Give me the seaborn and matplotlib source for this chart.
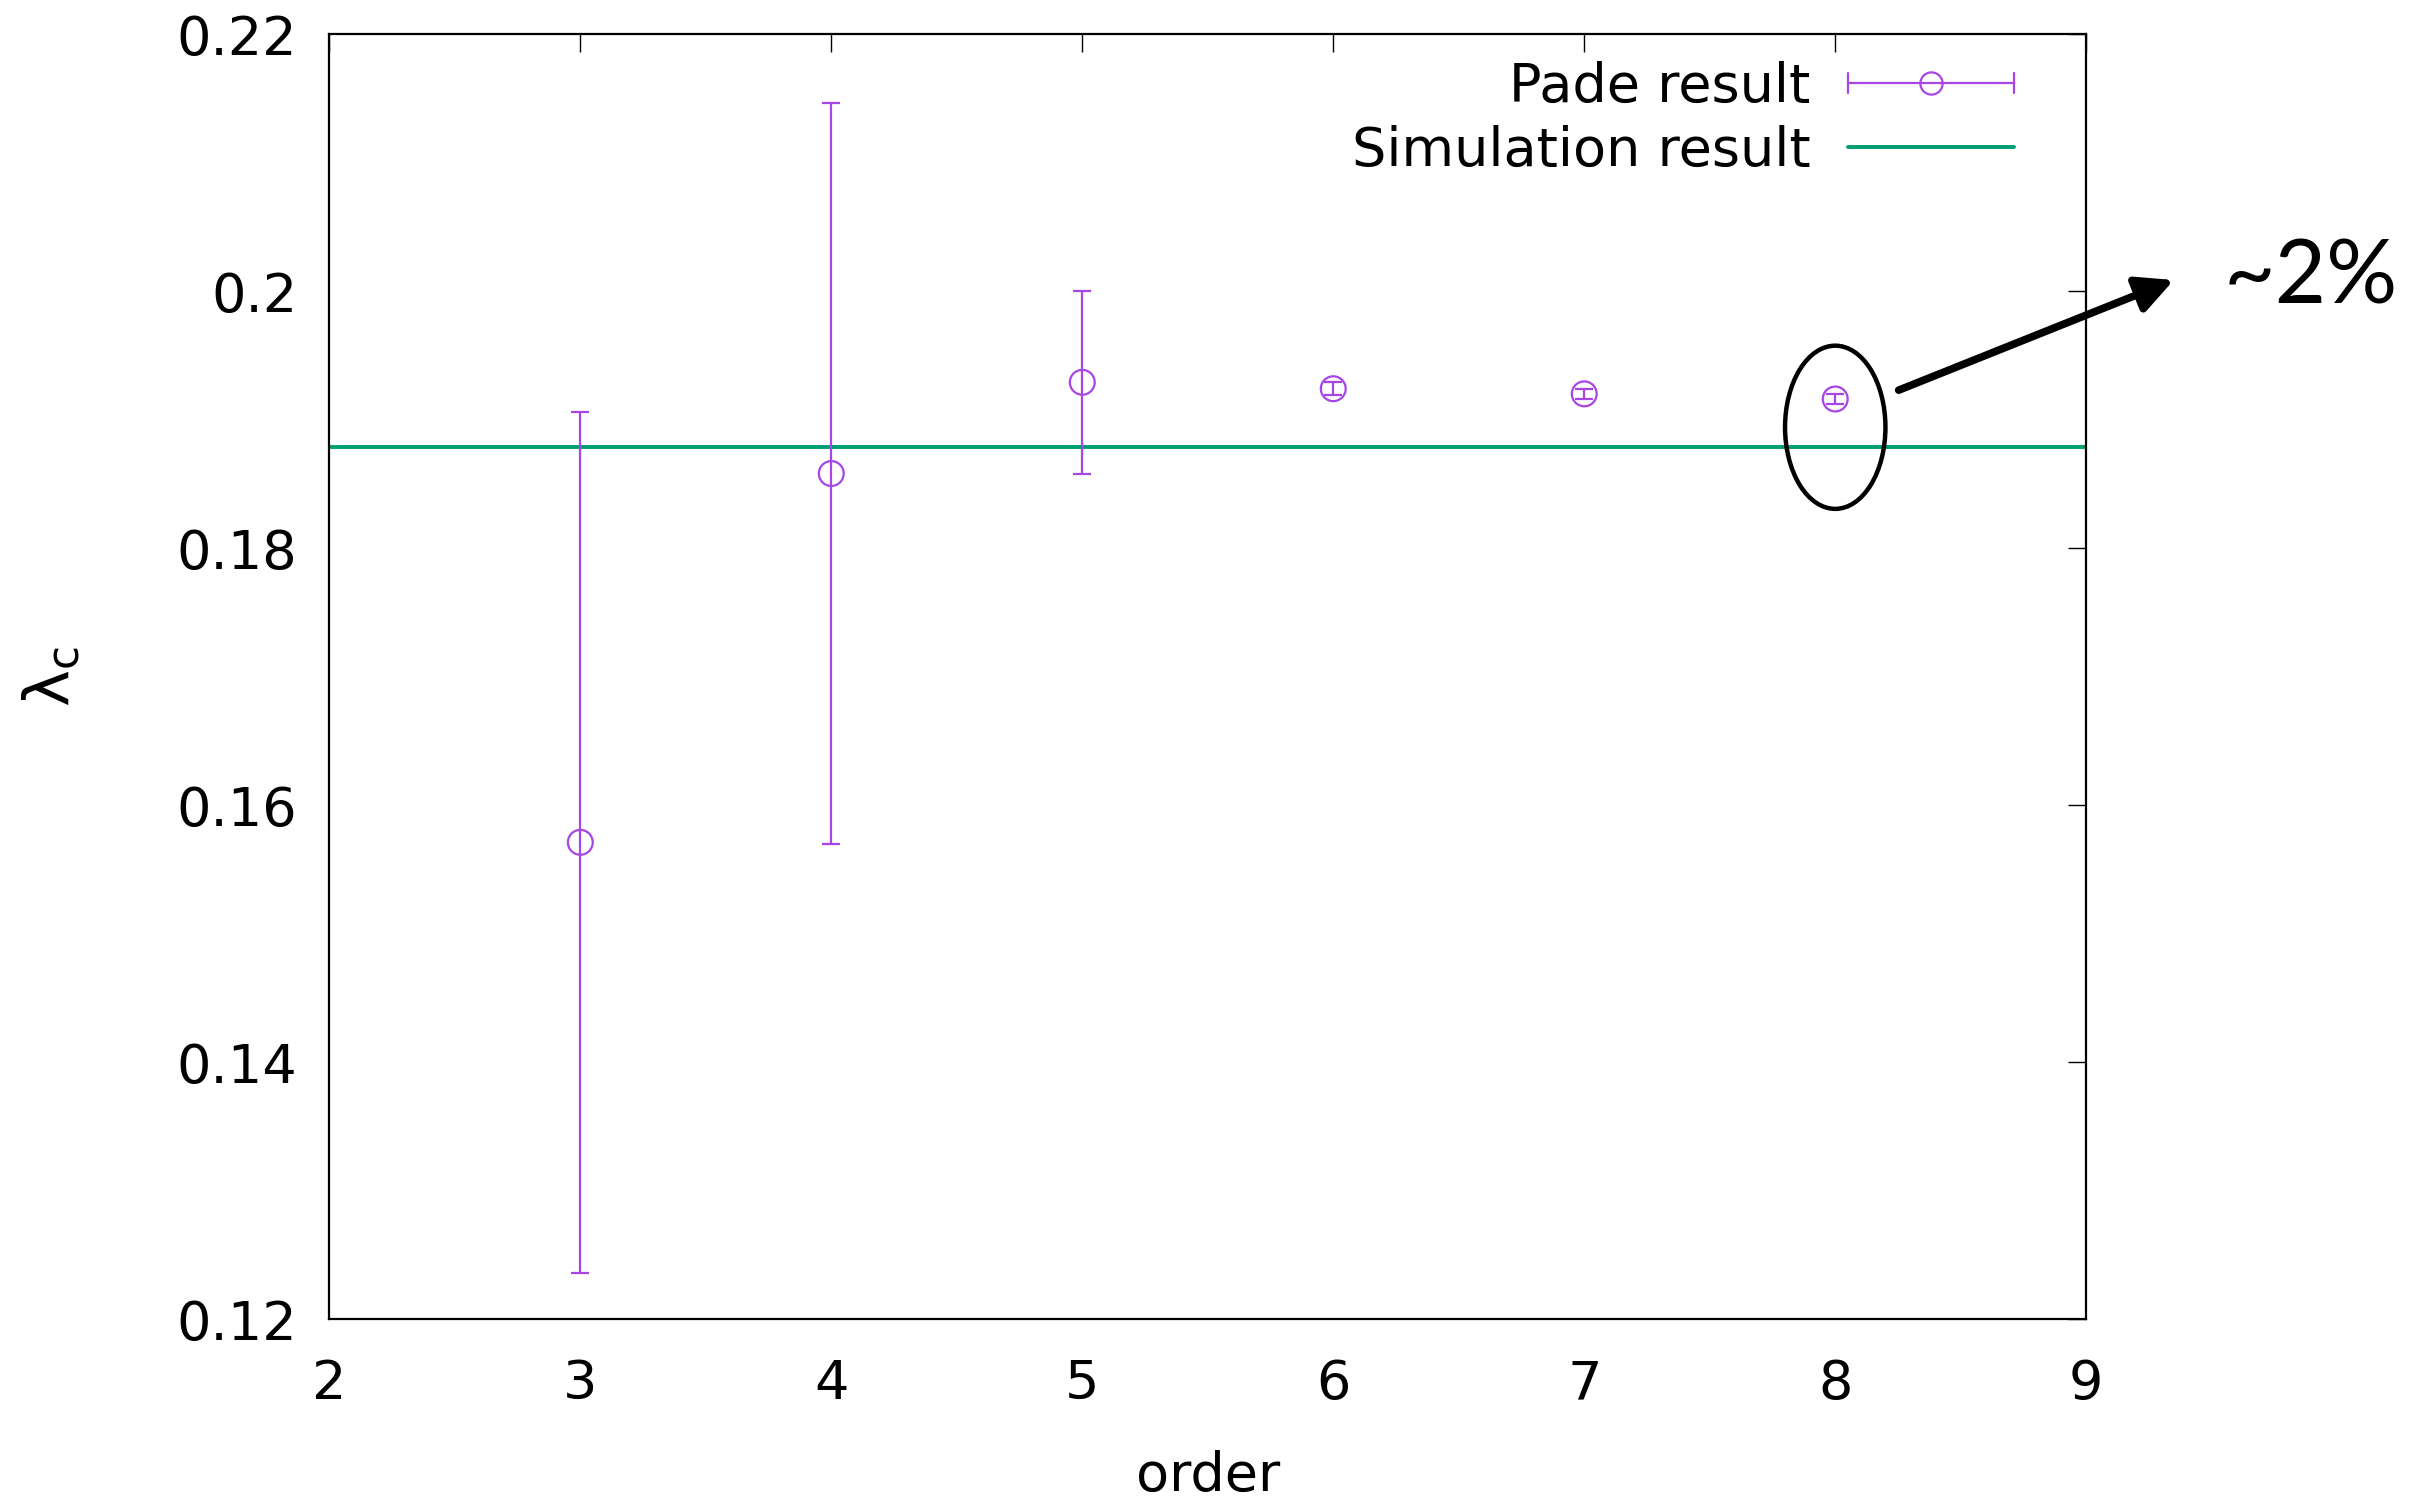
import numpy as np
import pandas as pd
import seaborn as sns
import matplotlib.pyplot as plt
from matplotlib.lines import Line2D
from matplotlib.patches import Ellipse, FancyArrowPatch
from matplotlib.legend_handler import HandlerBase

# values
orders = [3, 4, 5, 6, 7, 8]
pade_values = [0.1571, 0.1858, 0.1929, 0.1924, 0.1920, 0.1916]
pade_errors = [0.0335, 0.0288, 0.0071, 0.0005, 0.0004, 0.0004]
simulation_value = 0.1879
x_ticks = [2, 3, 4, 5, 6, 7, 8, 9]
y_ticks = [0.12, 0.14, 0.16, 0.18, 0.2, 0.22]
y_tick_labels = ["0.12", "0.14", "0.16", "0.18", "0.2", "0.22"]

PURPLE = "#a745e6"
GREEN = "#009e73"

sns.set_theme(style="white")
plt.rcParams["font.family"] = ["DejaVu Sans"]
plt.rcParams["text.color"] = "black"
plt.rcParams["axes.labelcolor"] = "black"
plt.rcParams["mathtext.fontset"] = "custom"
plt.rcParams["mathtext.rm"] = "DejaVu Sans"
plt.rcParams["mathtext.it"] = "DejaVu Sans"


class CapLineHandler(HandlerBase):
    # gnuplot style key sample: horizontal bar with caps and a circle
    def create_artists(self, legend, orig_handle, xdescent, ydescent,
                       width, height, fontsize, trans):
        y = (height - ydescent) / 2
        x0, x1 = -xdescent, -xdescent + width
        cap = 7
        arts = [
            Line2D([x0, x1], [y, y], color=PURPLE, lw=1.6),
            Line2D([x0, x0], [y - cap, y + cap], color=PURPLE, lw=1.6),
            Line2D([x1, x1], [y - cap, y + cap], color=PURPLE, lw=1.6),
            Line2D([(x0 + x1) / 2], [y], marker="o", ms=16, mfc="none",
                   mec=PURPLE, mew=1.6, ls="none"),
        ]
        for a in arts:
            a.set_transform(trans)
        return arts


df = pd.DataFrame({"order": orders, "lam": pade_values, "err": pade_errors})

fig = plt.figure(figsize=(24.25, 15), dpi=100)
ax = fig.add_axes([0.1358, 0.1206, 0.8603 - 0.1358, 0.9773 - 0.1206])

ax.axhline(simulation_value, color=GREEN, lw=2.8, zorder=1)
ax.errorbar(df["order"], df["lam"], yerr=df["err"], fmt="none",
            ecolor=PURPLE, elinewidth=1.6, capsize=6.5, capthick=1.6, zorder=2)
sns.scatterplot(data=df, x="order", y="lam", ax=ax, marker="o", s=320,
                facecolors="none", edgecolor=PURPLE, linewidth=1.6, zorder=3)

ax.set_xlim(2, 9)
ax.set_ylim(0.12, 0.22)
ax.set_xticks(x_ticks)
ax.set_yticks(y_ticks)
ax.set_yticklabels(y_tick_labels)
ax.tick_params(direction="in", length=13, width=1, top=True, right=True,
               labelsize=39, colors="black")
ax.tick_params(axis="x", pad=28)
ax.tick_params(axis="y", pad=23)
for s in ax.spines.values():
    s.set_color("black")
    s.set_linewidth(1.6)

ax.set_xlabel("order", fontsize=39, labelpad=29)
ax.set_ylabel(r"$\mathregular{\lambda_c}$", fontsize=45, labelpad=68)

handles = [Line2D([], []), Line2D([], [], color=GREEN, lw=2.8)]
ax.legend(handles, ["Pade result", "Simulation result"],
          handler_map={handles[0]: CapLineHandler()},
          loc="upper right", bbox_to_anchor=(0.9587, 0.979),
          frameon=False, markerfirst=False, fontsize=39,
          handlelength=3.05, handletextpad=0.7, labelspacing=0.22,
          borderaxespad=0, borderpad=0)

# annotation: ellipse around order 8 and arrow to "~2%"
ax.add_patch(Ellipse((8, 0.1894), width=0.40, height=0.0127, fill=False,
                     edgecolor="black", lw=3.2, zorder=4))
arrow = FancyArrowPatch((0.7819, 0.7392), (0.8975, 0.8140),
                        transform=fig.transFigure, arrowstyle="-|>",
                        mutation_scale=55, lw=5.5, color="black")
fig.add_artist(arrow)
fig.text(0.9170, 0.8144, "~2%", fontsize=64, family=["Lato", "DejaVu Sans"],
         va="center", ha="left", color="black")

fig.savefig("out.png", dpi=100)
